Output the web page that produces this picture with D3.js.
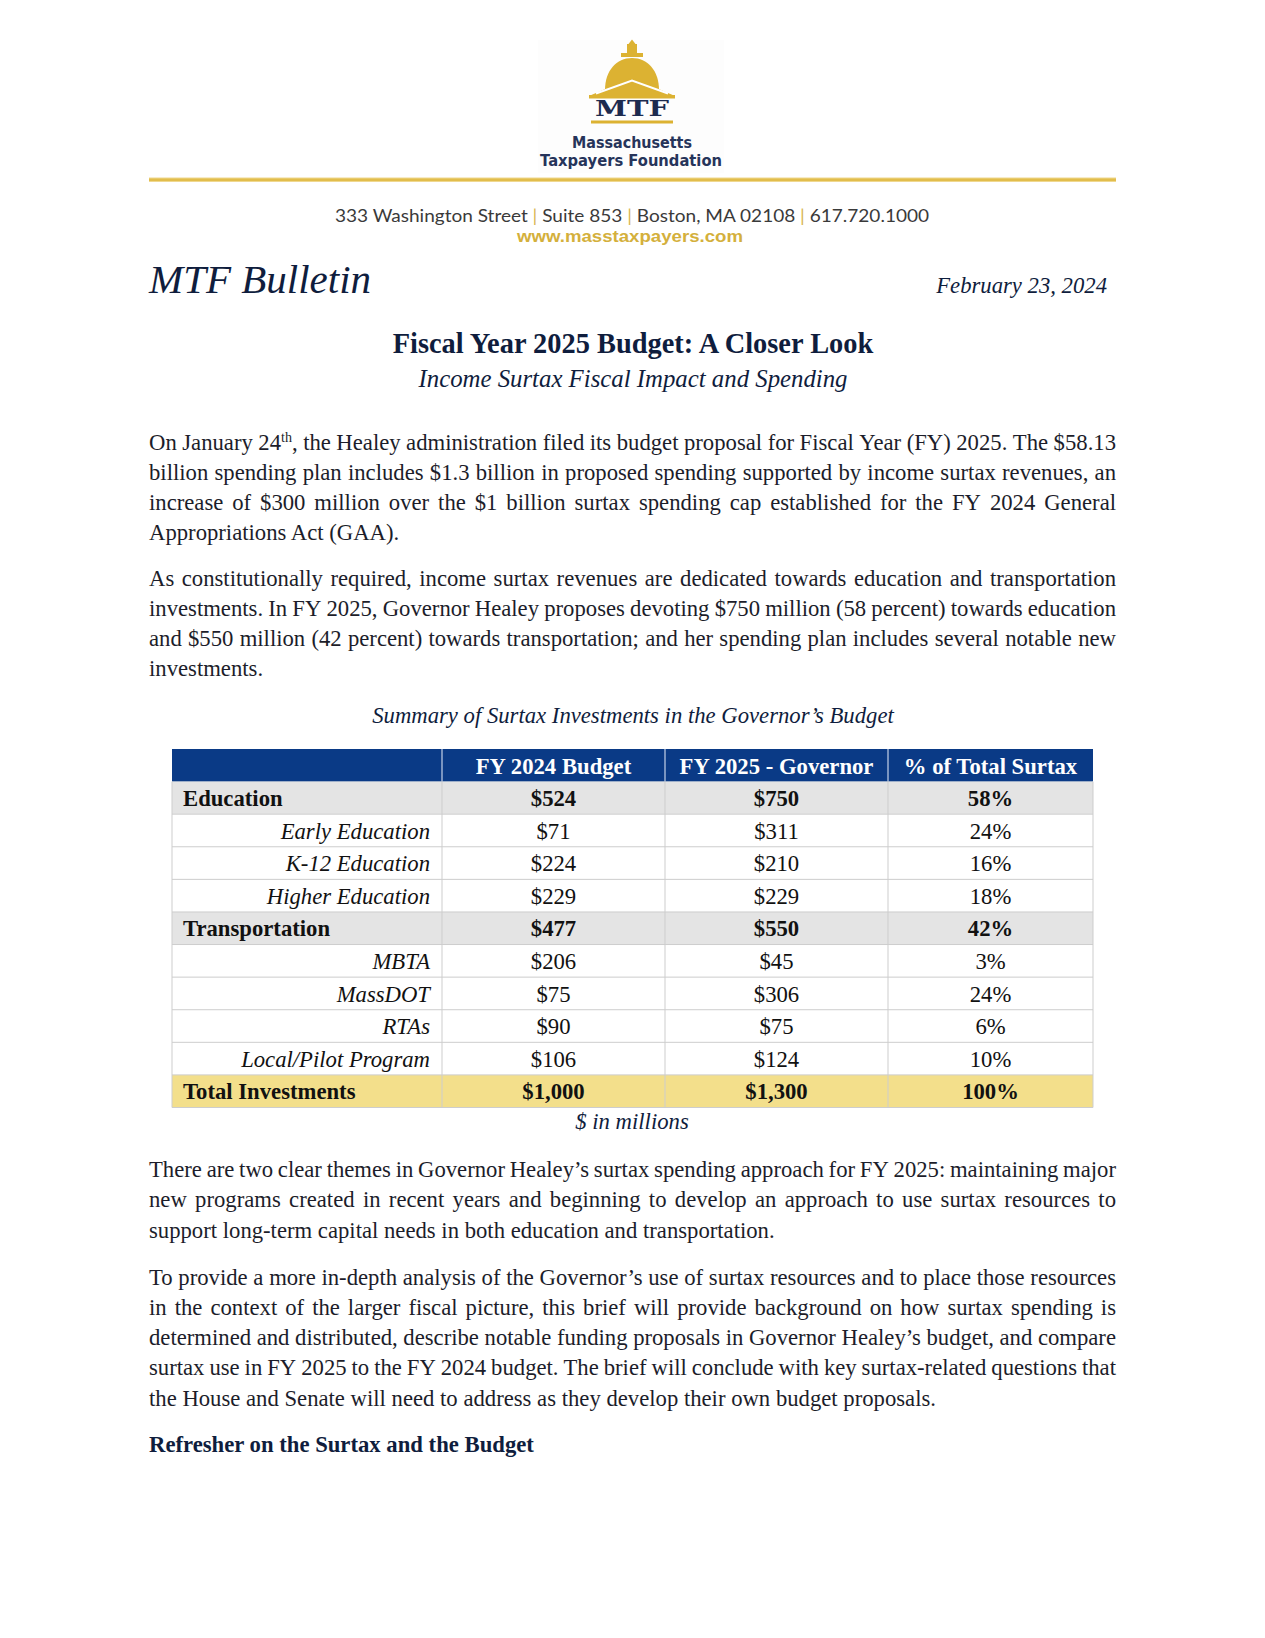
<!DOCTYPE html>
<html>
<head>
<meta charset="utf-8">
<script src="https://cdn.jsdelivr.net/npm/d3@7"></script>
<style>
  html, body { margin: 0; padding: 0; background: #fff; }
  svg { display: block; }
</style>
</head>
<body>
<script>
// ---------------- DATA ----------------
const columnHeaders = ["", "FY 2024 Budget", "FY 2025 - Governor", "% of Total Surtax"];
const categories = ["Education", "Early Education", "K-12 Education", "Higher Education",
  "Transportation", "MBTA", "MassDOT", "RTAs", "Local/Pilot Program", "Total Investments"];
const rowKinds = ["group", "item", "item", "item", "group", "item", "item", "item", "item", "total"];
const fy2024Budget = [524, 71, 224, 229, 477, 206, 75, 90, 106, 1000];
const fy2025Governor = [750, 311, 210, 229, 550, 45, 306, 75, 124, 1300];
const pctOfTotal = [58, 24, 16, 18, 42, 3, 24, 6, 10, 100];

const addressParts = ["333 Washington Street", "Suite 853", "Boston, MA 02108", "617.720.1000"];
const website = "www.masstaxpayers.com";
const bulletinLabel = "MTF Bulletin";
const dateLabel = "February 23, 2024";
const titleText = "Fiscal Year 2025 Budget: A Closer Look";
const subtitleText = "Income Surtax Fiscal Impact and Spending";
const tableCaption = "Summary of Surtax Investments in the Governor\u2019s Budget";
const unitNote = "$ in millions";
const heading = "Refresher on the Surtax and the Budget";

const para1 = [
  "On January 24{th}, the Healey administration filed its budget proposal for Fiscal Year (FY) 2025. The $58.13",
  "billion spending plan includes $1.3 billion in proposed spending supported by income surtax revenues, an",
  "increase of $300 million over the $1 billion surtax spending cap established for the FY 2024 General",
  "Appropriations Act (GAA)."
];
const para2 = [
  "As constitutionally required, income surtax revenues are dedicated towards education and transportation",
  "investments. In FY 2025, Governor Healey proposes devoting $750 million (58 percent) towards education",
  "and $550 million (42 percent) towards transportation; and her spending plan includes several notable new",
  "investments."
];
const para3 = [
  "There are two clear themes in Governor Healey\u2019s surtax spending approach for FY 2025: maintaining major",
  "new programs created in recent years and beginning to develop an approach to use surtax resources to",
  "support long-term capital needs in both education and transportation."
];
const para4 = [
  "To provide a more in-depth analysis of the Governor\u2019s use of surtax resources and to place those resources",
  "in the context of the larger fiscal picture, this brief will provide background on how surtax spending is",
  "determined and distributed, describe notable funding proposals in Governor Healey\u2019s budget, and compare",
  "surtax use in FY 2025 to the FY 2024 budget. The brief will conclude with key surtax-related questions that",
  "the House and Senate will need to address as they develop their own budget proposals."
];

// ---------------- LAYOUT ----------------
const W = 1265, H = 1638;
const marginL = 149, marginR = 1116;
const serif = "'Liberation Serif', 'Times New Roman', serif";
const navy = "#0f1d3d";
const bodyColor = "#1c1d2a";
const gold = "#dcb232";
const bodySize = 22.7;

const svg = d3.select("body").append("svg").attr("width", W).attr("height", H);
svg.append("rect").attr("width", W).attr("height", H).attr("fill", "#fff");

// ---------------- LOGO ----------------
const logo = svg.append("g");
logo.append("rect").attr("x", 538).attr("y", 40).attr("width", 186).attr("height", 133).attr("fill", "#fdfdfd");
logo.append("path").attr("d", "M632,39.5 L628.5,44 L627,44 L627,54 L637,54 L637,44 L635.5,44 Z").attr("fill", gold);
logo.append("rect").attr("x", 621).attr("y", 53).attr("width", 22).attr("height", 4).attr("fill", gold);
logo.append("path").attr("d", "M605,90 C605,70.5 616.5,58 632,58 C647.5,58 659,70.5 659,90 Z").attr("fill", gold);
logo.append("path").attr("d", "M589,96 L632,77.5 L675,96 Z").attr("fill", gold);
logo.append("path").attr("d", "M596,93.5 L632,80.5 L668,93.5").attr("fill", "none").attr("stroke", "#fff").attr("stroke-width", 2);
logo.append("path").attr("d", "M603,94 L632,83.5 L661,94 Z").attr("fill", gold);
logo.append("rect").attr("x", 589).attr("y", 95).attr("width", 86).attr("height", 3.5).attr("fill", gold);
logo.append("text").attr("x", 632).attr("y", 116).attr("text-anchor", "middle")
  .attr("font-family", "'DejaVu Serif', serif").attr("font-weight", "bold").attr("font-size", 23)
  .attr("textLength", 74).attr("lengthAdjust", "spacingAndGlyphs").attr("fill", "#1d2b4f").text("MTF");
logo.append("rect").attr("x", 591).attr("y", 120.5).attr("width", 82).attr("height", 3).attr("fill", gold);
logo.append("text").attr("x", 632).attr("y", 148).attr("text-anchor", "middle")
  .attr("font-family", "'DejaVu Sans', sans-serif").attr("font-weight", "bold").attr("font-size", 15)
  .attr("textLength", 120).attr("lengthAdjust", "spacingAndGlyphs").attr("fill", "#26345a").text("Massachusetts");
logo.append("text").attr("x", 631).attr("y", 166).attr("text-anchor", "middle")
  .attr("font-family", "'DejaVu Sans', sans-serif").attr("font-weight", "bold").attr("font-size", 15)
  .attr("textLength", 182).attr("lengthAdjust", "spacingAndGlyphs").attr("fill", "#26345a").text("Taxpayers Foundation");

// gold rule
svg.append("rect").attr("x", marginL).attr("y", 177.5).attr("width", marginR - marginL).attr("height", 4.5).attr("fill", "#efd88f");
svg.append("rect").attr("x", marginL).attr("y", 178.5).attr("width", marginR - marginL).attr("height", 2.5).attr("fill", "#e2bd4c");

// address
const addr = svg.append("text").attr("x", 632).attr("y", 222).attr("text-anchor", "middle")
  .attr("font-family", "Lato, 'Open Sans', sans-serif").attr("font-size", 17.5).attr("fill", "#3a3a3a")
  .attr("textLength", 594).attr("lengthAdjust", "spacingAndGlyphs");
addressParts.forEach((p, i) => {
  if (i > 0) addr.append("tspan").attr("fill", "#d8b650").text(" | ");
  addr.append("tspan").text(p);
});
svg.append("text").attr("x", 630).attr("y", 241.5).attr("text-anchor", "middle")
  .attr("font-family", "'Liberation Sans', Arial, sans-serif").attr("font-weight", "bold").attr("font-size", 17)
  .attr("textLength", 226).attr("lengthAdjust", "spacingAndGlyphs").attr("fill", "#d4b03c").text(website);

// bulletin + date
svg.append("text").attr("x", marginL).attr("y", 293).attr("font-family", serif).attr("font-style", "italic")
  .attr("font-size", 41).attr("fill", navy).text(bulletinLabel);
svg.append("text").attr("x", 1107).attr("y", 293).attr("text-anchor", "end").attr("font-family", serif)
  .attr("font-style", "italic").attr("font-size", bodySize).attr("fill", navy).text(dateLabel);

// title
svg.append("text").attr("x", 633).attr("y", 353).attr("text-anchor", "middle").attr("font-family", serif)
  .attr("font-weight", "bold").attr("font-size", 28.4).attr("fill", navy).text(titleText);
svg.append("text").attr("x", 633).attr("y", 387).attr("text-anchor", "middle").attr("font-family", serif)
  .attr("font-style", "italic").attr("font-size", 24.8).attr("fill", navy).text(subtitleText);

// ---------------- PARAGRAPHS ----------------
function fillLine(textSel, line) {
  const parts = line.split(/(\{[^}]*\})/);
  let raised = false;
  parts.forEach(p => {
    if (!p) return;
    if (p.startsWith("{")) {
      textSel.append("tspan").attr("font-size", bodySize * 0.62).attr("dy", -8).text(p.slice(1, -1));
      raised = true;
    } else {
      const t = textSel.append("tspan").text(p);
      if (raised) { t.attr("dy", 8); raised = false; }
    }
  });
}
function drawParagraph(lines, y0, lh) {
  const g = svg.append("g").attr("font-family", serif).attr("font-size", bodySize).attr("fill", bodyColor);
  lines.forEach((line, i) => {
    const y = y0 + i * lh;
    if (i === lines.length - 1) {
      fillLine(g.append("text").attr("x", marginL).attr("y", y), line);
      return;
    }
    const words = line.split(" ");
    const nodes = words.map(w => {
      const t = g.append("text").attr("y", y);
      fillLine(t, w);
      return t;
    });
    const widths = nodes.map(n => n.node().getComputedTextLength());
    const total = d3.sum(widths);
    const gap = (marginR - marginL - total) / (words.length - 1);
    let x = marginL;
    nodes.forEach((n, k) => { n.attr("x", x); x += widths[k] + gap; });
  });
}
drawParagraph(para1, 449.5, 30.3);
drawParagraph(para2, 585.5, 30.3);

svg.append("text").attr("x", 633).attr("y", 723).attr("text-anchor", "middle").attr("font-family", serif)
  .attr("font-style", "italic").attr("font-size", bodySize).attr("fill", navy).text(tableCaption);

// ---------------- TABLE ----------------
const colEdges = [172, 442, 665, 888, 1093];
const tableTop = 749, tableBottom = 1107.5;
const rowIndex = d3.range(categories.length + 1);
const yRow = d3.scaleBand().domain(rowIndex).range([tableTop, tableBottom]).padding(0);
const rh = yRow.bandwidth();
const colCenter = i => (colEdges[i] + colEdges[i + 1]) / 2;
const fmtMoney = d3.format("$,");
const fmtPct = d => d + "%";

const tbl = svg.append("g").attr("font-family", serif).attr("font-size", bodySize);

tbl.append("rect").attr("x", colEdges[0]).attr("y", yRow(0)).attr("width", colEdges[4] - colEdges[0])
  .attr("height", rh).attr("fill", "#0a3a86");
[1, 2, 3].forEach(c => {
  tbl.append("line").attr("x1", colEdges[c]).attr("x2", colEdges[c]).attr("y1", yRow(0)).attr("y2", yRow(0) + rh)
    .attr("stroke", "#9fb3d3").attr("stroke-width", 1.5);
});
tbl.selectAll("text.hdr").data(columnHeaders.slice(1)).join("text").attr("class", "hdr")
  .attr("x", (d, i) => colCenter(i + 1)).attr("y", yRow(0) + 24.5).attr("text-anchor", "middle")
  .attr("font-weight", "bold").attr("fill", "#fff").text(d => d);

const rowsData = categories.map((c, i) => ({
  label: c, kind: rowKinds[i], vals: [fmtMoney(fy2024Budget[i]), fmtMoney(fy2025Governor[i]), fmtPct(pctOfTotal[i])]
}));
const fills = { group: "#e4e4e4", item: "#ffffff", total: "#f3df8b" };

const rows = tbl.selectAll("g.row").data(rowsData).join("g").attr("class", "row")
  .attr("transform", (d, i) => `translate(0,${yRow(i + 1)})`);
rows.append("rect").attr("x", colEdges[0]).attr("width", colEdges[4] - colEdges[0]).attr("height", rh)
  .attr("fill", d => fills[d.kind]);
rows.append("text")
  .attr("x", d => d.kind === "item" ? colEdges[1] - 12 : colEdges[0] + 11)
  .attr("y", 24.5)
  .attr("text-anchor", d => d.kind === "item" ? "end" : "start")
  .attr("font-weight", d => d.kind === "item" ? "normal" : "bold")
  .attr("font-style", d => d.kind === "item" ? "italic" : "normal")
  .attr("fill", "#111").text(d => d.label);
rows.each(function(d) {
  d3.select(this).selectAll("text.v").data(d.vals).join("text").attr("class", "v")
    .attr("x", (v, j) => colCenter(j + 1)).attr("y", 24.5).attr("text-anchor", "middle")
    .attr("font-weight", d.kind === "item" ? "normal" : "bold").attr("fill", "#111").text(v => v);
});

const grid = tbl.append("g").attr("stroke", "#cdcdcd").attr("stroke-width", 1);
rowIndex.slice(2).forEach(i => {
  grid.append("line").attr("x1", colEdges[0]).attr("x2", colEdges[4]).attr("y1", yRow(i)).attr("y2", yRow(i));
});
[0, 1, 2, 3, 4].forEach(c => {
  grid.append("line").attr("x1", colEdges[c]).attr("x2", colEdges[c]).attr("y1", yRow(1)).attr("y2", tableBottom);
});
grid.append("line").attr("x1", colEdges[0]).attr("x2", colEdges[4]).attr("y1", tableBottom).attr("y2", tableBottom);

svg.append("text").attr("x", 632).attr("y", 1129).attr("text-anchor", "middle").attr("font-family", serif)
  .attr("font-style", "italic").attr("font-size", bodySize).attr("fill", navy).text(unitNote);

drawParagraph(para3, 1177, 30.3);
drawParagraph(para4, 1284.5, 30.3);

svg.append("text").attr("x", marginL).attr("y", 1452).attr("font-family", serif).attr("font-weight", "bold")
  .attr("font-size", bodySize).attr("fill", navy).text(heading);
</script>
</body>
</html>
